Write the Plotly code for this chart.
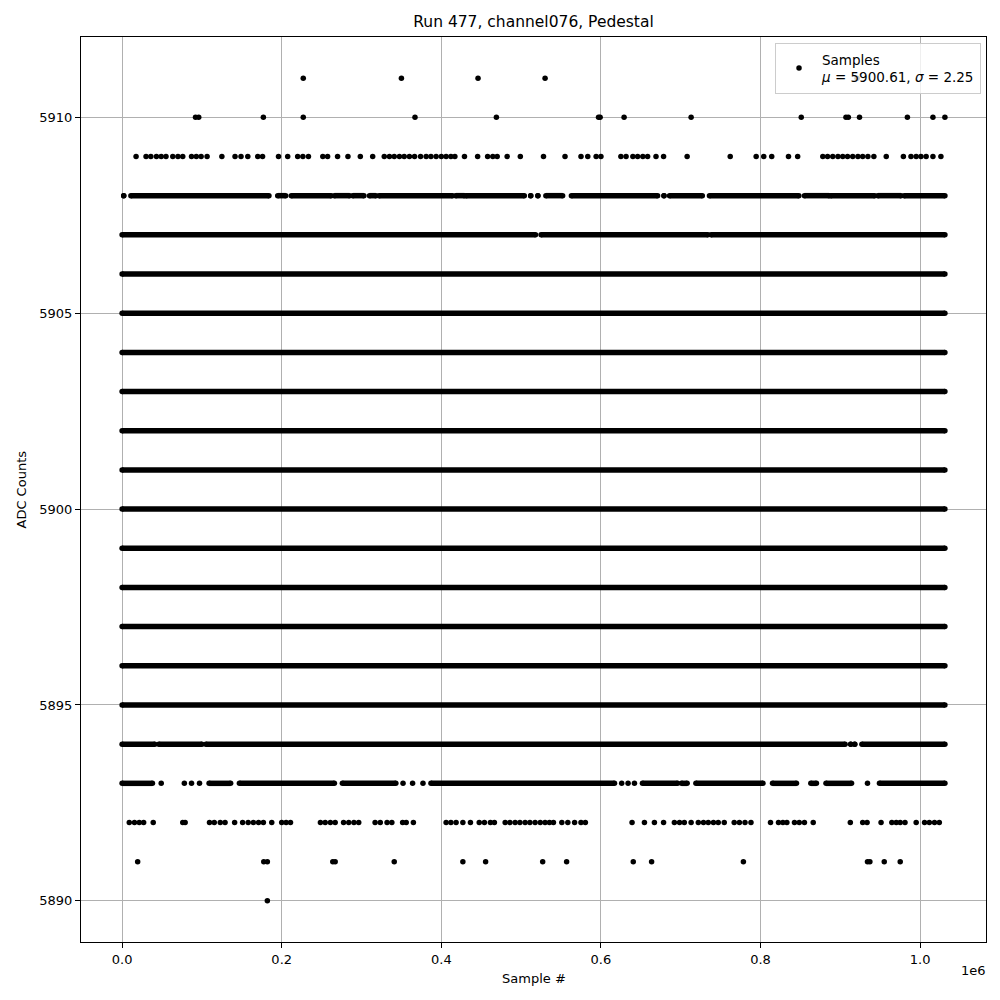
import plotly.graph_objects as go

title = 'Run 477, channel076, Pedestal'
legend_label = 'Samples<br><i>μ</i> = 5900.61, <i>σ</i> = 2.25'

x_ticks = [0, 200, 400, 600, 800, 1000]
x_tick_text = ['0.0', '0.2', '0.4', '0.6', '0.8', '1.0']
y_ticks = [5890, 5895, 5900, 5905, 5910]

# rows that are filled from the first to the last sample
full_rows = [5895, 5896, 5897, 5898, 5899, 5900, 5901, 5902, 5903, 5904, 5905, 5906]
full_span = (0, 1031)

# rows that are mostly filled, kept as runs (start, end)
runs_5908 = [(2, 2), (11, 184), (195, 205), (212, 262), (266, 285), (289, 303), (310, 318),
             (322, 414), (418, 429), (431, 504), (512, 512), (521, 521), (531, 552), (563, 671),
             (679, 679), (686, 727), (736, 848), (855, 886), (888, 943), (947, 976), (980, 1031)]
runs_5907 = [(0, 518), (525, 734), (738, 1031)]
runs_5894 = [(0, 41), (46, 100), (105, 906), (913, 913), (918, 918), (927, 1031)]
runs_5893 = [(0, 38), (109, 136), (147, 266), (276, 343), (387, 617), (652, 696), (701, 708),
             (719, 803), (815, 845), (863, 870), (882, 914), (949, 1031)]

# rows with single samples
pts_5911 = [227, 350, 446, 530, 921]
pts_5910 = [92, 96, 177, 227, 367, 469, 597, 599, 629, 713, 851, 907, 910, 924, 984, 1016, 1031]
pts_5909 = [17.5, 30, 36, 43, 49, 55, 63.5, 70, 76, 87, 93, 99, 106.5, 125, 141.5, 149, 157.5, 170,
            176, 196, 207.5, 220, 226.5, 233.5, 251.5, 257.5, 270, 283, 298.5, 314, 328.5, 335, 341,
            347.5, 353.5, 360, 366.5, 374, 381, 387, 393.5, 400, 406, 412, 417, 429, 445.5, 458,
            464.5, 470, 482.5, 499, 528, 555, 575, 583.5, 594, 600, 625, 631.5, 640, 646, 652.5,
            658.5, 669, 678.5, 708, 762, 794.5, 804, 814, 835, 846.5, 878, 884, 890.5, 897, 903,
            909, 915.5, 922, 928, 934.5, 942, 957.5, 979, 988.5, 995, 1001, 1007.5, 1016, 1026]
pts_5893 = [49, 78, 87, 97, 352, 364, 377, 626, 634, 642, 934]
pts_5892 = [9, 15.5, 21.5, 27, 39, 76, 79, 109.5, 115.5, 123, 129, 141, 151, 158, 164.5, 171, 177,
            187.5, 200, 205.5, 211, 248.5, 254.5, 261, 267, 277.5, 284, 290.5, 296.5, 317, 323.5,
            332, 338, 351.5, 356, 365, 406, 412, 418.5, 427, 436.5, 447.5, 454, 461.5, 466.5, 480,
            486, 492.5, 498.5, 505, 511, 517.5, 524, 530, 535.5, 540.5, 551, 558.5, 567, 575,
            580.5, 639, 654.5, 667, 678.5, 692, 698.5, 704.5, 713, 722, 728.5, 734.5, 741, 747,
            754.5, 767, 773.5, 780.5, 788, 812.5, 822.5, 828, 833, 842.5, 848.5, 855, 866, 912.5,
            928, 933.5, 951, 964.5, 970, 975, 981, 995, 1005.5, 1011.5, 1018, 1024]
pts_5891 = [19.5, 177.5, 182, 264, 267, 341, 427, 455.5, 527, 557, 640.5, 663.5, 778.5, 934, 937,
            955, 975]
pts_5890 = [182]

runs = {5908: runs_5908, 5907: runs_5907, 5894: runs_5894, 5893: runs_5893}
for r in full_rows:
    runs[r] = [full_span]
points = {5911: pts_5911, 5910: pts_5910, 5909: pts_5909, 5893: pts_5893,
          5892: pts_5892, 5891: pts_5891, 5890: pts_5890}

run_x, run_y = [], []
for adc, spans in runs.items():
    for a, b in spans:
        run_x += [a * 1e3, b * 1e3, None]
        run_y += [adc, adc, None]

pt_x, pt_y = [], []
for adc, xs in points.items():
    for x in xs:
        pt_x.append(x * 1e3)
        pt_y.append(adc)

fig = go.Figure()
fig.add_trace(go.Scatter(x=run_x, y=run_y, mode='lines+markers', showlegend=False,
                         line=dict(color='black', width=5.5),
                         marker=dict(color='black', size=5.5), connectgaps=False))
fig.add_trace(go.Scatter(x=pt_x, y=pt_y, mode='markers', name=legend_label,
                         marker=dict(color='black', size=5.5)))

axis = dict(showline=True, mirror=True, linecolor='black', linewidth=1,
            ticks='outside', ticklen=5, tickcolor='black', tickwidth=1,
            showgrid=True, gridcolor='#b0b0b0', gridwidth=0.8, zeroline=False,
            tickfont=dict(size=13, color='black'))

# the page puts the figure ~7px in from the top-left corner, margins allow for it
fig.update_layout(
    width=1000, height=1000,
    margin=dict(l=73, r=22, t=29, b=66),
    paper_bgcolor='white', plot_bgcolor='white',
    font=dict(family='DejaVu Sans', size=13, color='black'),
    title=dict(text=title, x=0.5, xref='paper', y=0.986, yref='container',
               yanchor='middle', font=dict(size=15.5)),
    xaxis=dict(axis, range=[-51.5e3, 1082.5e3], tickvals=[v * 1e3 for v in x_ticks],
               ticktext=x_tick_text),
    yaxis=dict(axis, range=[5888.95, 5912.05], tickvals=y_ticks),
    legend=dict(x=0.9945, y=0.9934, xanchor='right', yanchor='top',
                bgcolor='rgba(255,255,255,0.8)', bordercolor='#cccccc', borderwidth=1,
                font=dict(size=13.5), valign='middle', itemwidth=36),
    annotations=[
        dict(text='Sample #', x=0.5, y=-0.0398, xref='paper', yref='paper',
             showarrow=False, yanchor='middle', font=dict(size=13)),
        dict(text='ADC Counts', x=-0.0652, y=0.5, xref='paper', yref='paper',
             showarrow=False, textangle=-90, xanchor='center', font=dict(size=13)),
        dict(text='1e6', x=0.97, y=-0.032, xref='paper', yref='paper',
             showarrow=False, yanchor='middle', xanchor='left', font=dict(size=13)),
    ],
)

fig.write_html('out.html')
